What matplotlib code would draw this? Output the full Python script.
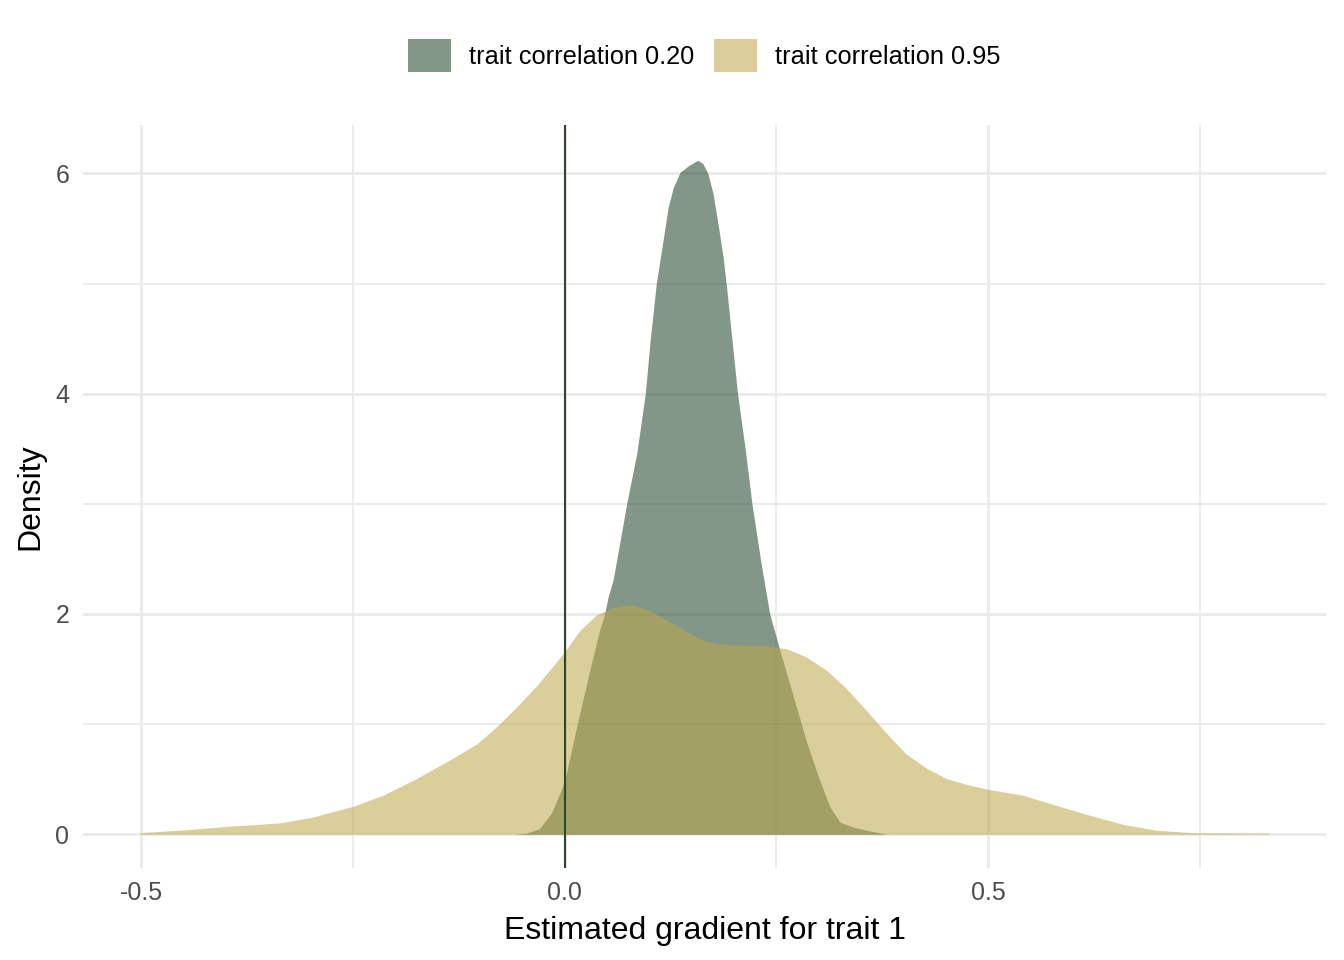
import numpy as np
import matplotlib
matplotlib.use('Agg')
import matplotlib.pyplot as plt
from matplotlib.patches import Patch

# density curves
green_x = [-0.060, -0.045, -0.030, -0.016, -0.006, 0.0, 0.0138, 0.0295, 0.041, 0.047,
           0.051, 0.057, 0.065, 0.073, 0.085, 0.095, 0.101, 0.108, 0.116, 0.122,
           0.128, 0.136, 0.146, 0.157, 0.163, 0.169, 0.175, 0.181, 0.187, 0.191,
           0.199, 0.204, 0.213, 0.221, 0.232, 0.242, 0.254, 0.270, 0.285, 0.301,
           0.313, 0.325, 0.340, 0.360, 0.380]
green_d = [0.0, 0.01, 0.05, 0.19, 0.37, 0.49, 0.97, 1.49, 1.85, 2.0,
           2.15, 2.31, 2.65, 3.0, 3.46, 4.0, 4.5, 5.0, 5.39, 5.69,
           5.87, 6.01, 6.07, 6.12, 6.09, 6.0, 5.82, 5.54, 5.24, 4.97,
           4.37, 4.0, 3.5, 3.0, 2.45, 2.0, 1.67, 1.25, 0.85, 0.49,
           0.25, 0.11, 0.066, 0.03, 0.0]

yellow_x = [-0.502, -0.455, -0.396, -0.336, -0.297, -0.250, -0.215, -0.179, -0.140,
            -0.104, -0.081, -0.057, -0.033, -0.010, 0.0, 0.0177, 0.037, 0.057,
            0.079, 0.100, 0.124, 0.148, 0.167, 0.191, 0.214, 0.238, 0.262,
            0.285, 0.309, 0.333, 0.356, 0.380, 0.403, 0.427, 0.451, 0.478,
            0.502, 0.541, 0.580, 0.620, 0.659, 0.699, 0.738, 0.777, 0.832]
yellow_d = [0.015, 0.036, 0.073, 0.103, 0.157, 0.254, 0.354, 0.49, 0.656,
            0.82, 0.974, 1.155, 1.35, 1.565, 1.66, 1.85, 1.99, 2.06,
            2.085, 2.03, 1.93, 1.82, 1.75, 1.72, 1.715, 1.71, 1.685,
            1.61, 1.49, 1.32, 1.125, 0.915, 0.73, 0.60, 0.505, 0.445,
            0.405, 0.354, 0.263, 0.172, 0.09, 0.036, 0.015, 0.012, 0.01]

labels = ['trait correlation 0.20', 'trait correlation 0.95']
colors = ['#1e4227', '#bda947']
x_ticks = [-0.5, 0.0, 0.5]
x_ticklabels = ['-0.5', '0.0', '0.5']
y_ticks = [0, 2, 4, 6]

plt.rcParams['font.family'] = ['Liberation Sans', 'DejaVu Sans']

fig = plt.figure(figsize=(13.44, 9.6), dpi=100)
ax = fig.add_axes([0.0618, 0.0958, 0.9248, 0.774])

ax.fill_between(green_x, 0, green_d, color=colors[0], alpha=0.55, lw=0, zorder=2)
ax.fill_between(yellow_x, 0, yellow_d, color=colors[1], alpha=0.55, lw=0, zorder=3)
ax.axvline(0, color='#2b4731', lw=1.5, zorder=4)

ax.set_xlim(-0.569, 0.899)
ax.set_ylim(-0.307, 6.44)
ax.set_xticks(x_ticks)
ax.set_xticklabels(x_ticklabels)
ax.set_yticks(y_ticks)
ax.set_xticks([-0.25, 0.25, 0.75], minor=True)
ax.set_yticks([1, 3, 5], minor=True)
ax.grid(which='major', color='#ebebeb', lw=2.1, zorder=0)
ax.grid(which='minor', color='#ebebeb', lw=1.3, zorder=0)
ax.set_axisbelow(True)
for s in ax.spines.values():
    s.set_visible(False)
ax.tick_params(which='both', length=0, labelsize=18, labelcolor='#4d4d4d')
ax.tick_params(axis='x', pad=9)
ax.tick_params(axis='y', pad=10)

ax.set_xlabel('Estimated gradient for trait 1', fontsize=23, labelpad=8)
ax.set_ylabel('Density', fontsize=23, labelpad=7)

handles = [Patch(facecolor=c, alpha=0.55, edgecolor='none') for c in colors]
fig.legend(handles, labels, loc='center', bbox_to_anchor=(0.5242, 0.942), ncol=2,
           frameon=False, fontsize=18.3, handlelength=1.68, handleheight=1.65,
           handletextpad=0.72, columnspacing=0.76)

fig.savefig('out.png', dpi=100)
